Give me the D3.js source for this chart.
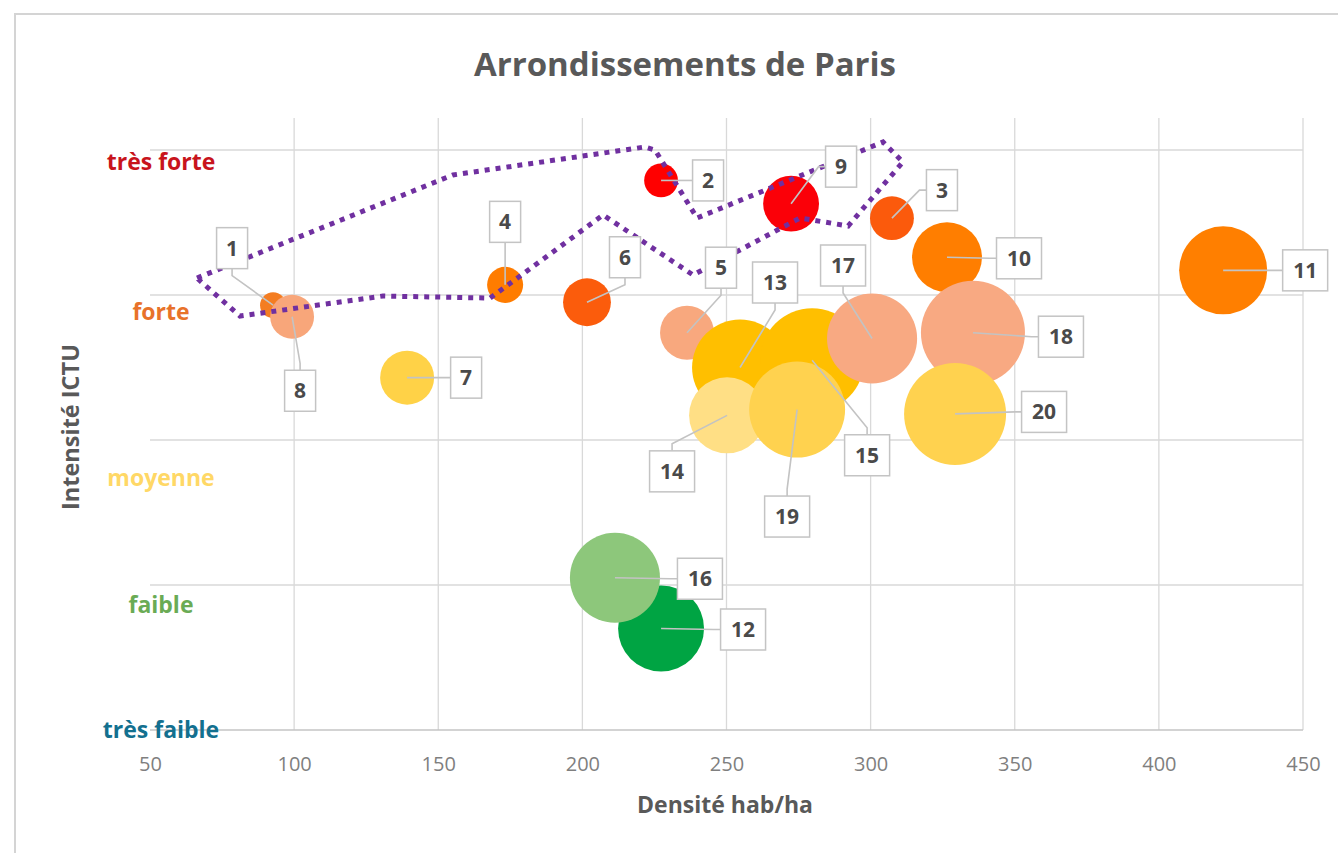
<!DOCTYPE html>
<html>
<head>
<meta charset="utf-8">
<script src="https://cdn.jsdelivr.net/npm/d3@7"></script>
<style>
  html, body { margin: 0; padding: 0; background: #fff; }
  svg { display: block; }
  text { font-family: "Open Sans", "DejaVu Sans", sans-serif; }
</style>
</head>
<body>
<svg id="chart" width="1338" height="853"></svg>
<script>
// Arrondissements of Paris: density (inhabitants per hectare) against ICTU intensity
const arrondissements = [1, 2, 3, 4, 5, 6, 7, 8, 9, 10, 11, 12, 13, 14, 15, 16, 17, 18, 19, 20];
const density   = [92.7, 227.3, 307.4, 173.2, 236.3, 201.6, 139.2, 99.3, 272.4, 326.5,
                   422.3, 227.3, 254.7, 250.2, 279.7, 211.3, 300.5, 335.5, 274.5, 329.3];
const intensity = [2.93, 3.79, 3.53, 3.07, 2.74, 2.95, 2.43, 2.85, 3.63, 3.26,
                   3.17, 0.70, 2.50, 2.17, 2.55, 1.05, 2.70, 2.74, 2.21, 2.18];
const bubbleSize = [13, 22, 37, 25, 56, 44, 56, 37, 60, 94,
                    149, 142, 177, 111, 208, 156, 156, 208, 177, 200];
const bubbleColor = ["#f47d22", "#ff0000", "#fb5a0c", "#ff7c00", "#f8a87e", "#fb5c0c", "#ffd247",
                     "#f8a67a", "#fb0008", "#ff7e00", "#ff7f00", "#00a443", "#ffbf00", "#ffdf85",
                     "#ffbf00", "#8dc77b", "#f8a982", "#f8a982", "#ffd24f", "#ffd24f"];

// Intensity scale labels on the vertical axis
const levelNames  = ["très faible", "faible", "moyenne", "forte", "très forte"];
const levelTicks  = [0, 0.86, 1.74, 2.88, 3.92];
const levelColors = ["#13708f", "#6aab55", "#ffd866", "#e8722a", "#c8141c"];

const xTicks = [50, 100, 150, 200, 250, 300, 350, 400, 450];
const yGrid  = [1, 2, 3, 4];

// Hand-drawn selection outline, in data units (density, intensity)
const outlineDensity   = [66.3, 155.1, 221.7, 225.2, 239.8, 304.3, 311.2, 292.2, 275.5, 238.4, 207.2, 168.0, 130.8, 81.2];
const outlineIntensity = [3.117, 3.828, 4.021, 4.0, 3.531, 4.055, 3.917, 3.476, 3.531, 3.138, 3.552, 2.979, 2.993, 2.855];

// ---- layout ----
const W = 1338, H = 853;
const plotLeft = 150, plotRight = 1303, plotTop = 118, plotBottom = 730;

// label box offsets from the bubble centre, in pixels
const labelOffset = {
  1: [-41, -57], 2: [47, 0], 3: [50, -28], 4: [0, -63], 5: [34, -65],
  6: [38, -45], 7: [59, 0], 8: [8, 74], 9: [50, -37], 10: [72, 1],
  11: [82, 0], 12: [82, 1], 13: [35, -85], 14: [-55, 56], 15: [55, 95],
  16: [85, 1], 17: [-29, -73], 18: [88, 4], 19: [-10, 107], 20: [89, -2]
};

const svg = d3.select("#chart");
svg.append("rect").attr("width", W).attr("height", H).attr("fill", "#fff");
svg.append("rect")
  .attr("x", 15).attr("y", 14).attr("width", W).attr("height", H)
  .attr("fill", "none").attr("stroke", "#d4d4d4").attr("stroke-width", 2);

const x = d3.scaleLinear().domain([50, 450]).range([plotLeft, plotRight]);
const y = d3.scaleLinear().domain([0, 4]).range([plotBottom, 150]);
const r = d3.scaleSqrt().domain([0, 200]).range([0, 51]);

// grid
const grid = svg.append("g");
grid.selectAll("line.v").data(xTicks.slice(1)).join("line")
  .attr("class", "v")
  .attr("x1", d => x(d)).attr("x2", d => x(d))
  .attr("y1", plotTop).attr("y2", plotBottom)
  .attr("stroke", "#d9d9d9").attr("stroke-width", 1.3);
grid.selectAll("line.h").data(yGrid).join("line")
  .attr("class", "h")
  .attr("x1", plotLeft).attr("x2", plotRight)
  .attr("y1", d => y(d)).attr("y2", d => y(d))
  .attr("stroke", "#d9d9d9").attr("stroke-width", 1.3);
grid.append("line")
  .attr("x1", plotLeft).attr("x2", plotRight).attr("y1", y(0)).attr("y2", y(0))
  .attr("stroke", "#c4c4c4").attr("stroke-width", 1.5);

// x axis
const xAxis = d3.axisBottom(x).tickValues(xTicks).tickSize(0).tickPadding(27);
const gx = svg.append("g").attr("transform", `translate(0,${plotBottom})`).call(xAxis);
gx.select(".domain").remove();
gx.selectAll("text").attr("font-size", 20).attr("fill", "#7f7f7f")
  .attr("font-family", "'Open Sans', sans-serif");

// intensity labels
svg.append("g").selectAll("text").data(levelNames).join("text")
  .attr("x", 161).attr("y", (d, i) => y(levelTicks[i]))
  .attr("dy", "0.35em").attr("text-anchor", "middle")
  .attr("font-size", 23).attr("font-weight", 700)
  .attr("fill", (d, i) => levelColors[i])
  .text(d => d);

// titles
svg.append("text").attr("x", 685).attr("y", 76).attr("text-anchor", "middle")
  .attr("font-size", 33).attr("font-weight", 700).attr("fill", "#595959")
  .text("Arrondissements de Paris");
svg.append("text").attr("x", 725).attr("y", 813).attr("text-anchor", "middle")
  .attr("font-size", 23).attr("font-weight", 700).attr("fill", "#595959")
  .text("Densité hab/ha");
svg.append("text").attr("transform", "translate(79,427) rotate(-90)").attr("text-anchor", "middle")
  .attr("font-size", 23.5).attr("font-weight", 700).attr("fill", "#595959")
  .text("Intensité ICTU");

// bubbles
const points = arrondissements.map((a, i) => ({
  id: a, cx: x(density[i]), cy: y(intensity[i]), rad: r(bubbleSize[i]), color: bubbleColor[i]
}));

svg.append("g").selectAll("circle").data(points).join("circle")
  .attr("cx", d => d.cx).attr("cy", d => d.cy).attr("r", d => d.rad)
  .attr("fill", d => d.color);

// selection outline
const outline = d3.line().x(d => x(d[0])).y(d => y(d[1])).curve(d3.curveLinearClosed);
svg.append("path")
  .datum(outlineDensity.map((v, i) => [v, outlineIntensity[i]]))
  .attr("d", outline)
  .attr("fill", "none").attr("stroke", "#7030a0").attr("stroke-width", 5)
  .attr("stroke-dasharray", "5,6");

// data labels with leader lines
const boxH = 41;
const labels = svg.append("g");
points.forEach(p => {
  const [ox, oy] = labelOffset[p.id];
  const bw = String(p.id).length > 1 ? 45 : 31;
  const bx = p.cx + ox, by = p.cy + oy;
  let ex, ey, kx, ky;
  if (Math.abs(ox) - bw / 2 > Math.abs(oy) - boxH / 2) {
    ex = bx - Math.sign(ox) * bw / 2; ey = by;
    kx = ex - Math.sign(ox) * 7; ky = ey;
  } else {
    ex = bx; ey = by - Math.sign(oy) * boxH / 2;
    kx = ex; ky = ey - Math.sign(oy) * 7;
  }
  labels.append("polyline")
    .attr("points", [[p.cx, p.cy], [kx, ky], [ex, ey]].map(q => q.join(",")).join(" "))
    .attr("fill", "none").attr("stroke", "#c3c3c3").attr("stroke-width", 1.6);
  labels.append("rect")
    .attr("x", bx - bw / 2).attr("y", by - boxH / 2).attr("width", bw).attr("height", boxH)
    .attr("fill", "#fff").attr("stroke", "#c4c4c4").attr("stroke-width", 1.5);
  labels.append("text")
    .attr("x", bx).attr("y", by).attr("dy", "0.36em").attr("text-anchor", "middle")
    .attr("font-size", 21).attr("font-weight", 700).attr("fill", "#4a4a4a")
    .text(p.id);
});
</script>
</body>
</html>
